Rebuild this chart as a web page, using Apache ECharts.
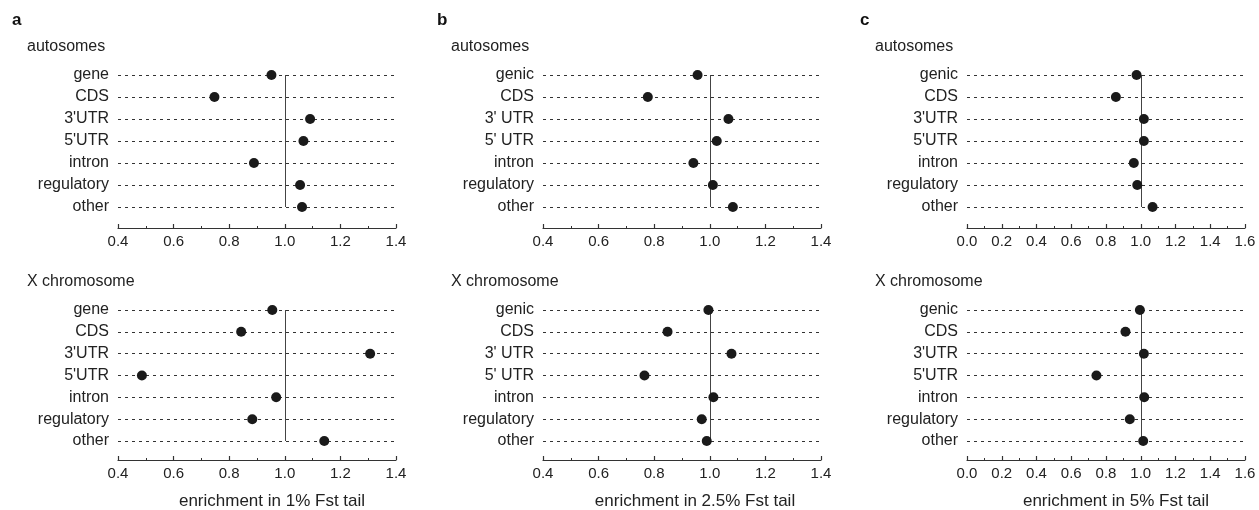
<!DOCTYPE html>
<html>
<head>
<meta charset="utf-8">
<script src="https://cdn.jsdelivr.net/npm/echarts@6/dist/echarts.min.js"></script>
<style>
html,body{margin:0;padding:0;background:#fff;}
#chart{width:1259px;height:510px;}
</style>
</head>
<body>
<div id="chart"></div>
<script>
// ---- data ----
const categoriesA = ['gene', 'CDS', "3'UTR", "5'UTR", 'intron', 'regulatory', 'other'];
const categoriesB = ['genic', 'CDS', "3' UTR", "5' UTR", 'intron', 'regulatory', 'other'];
const categoriesC = ['genic', 'CDS', "3'UTR", "5'UTR", 'intron', 'regulatory', 'other'];

const autosomesA = [0.952, 0.747, 1.091, 1.067, 0.889, 1.055, 1.062];
const xChromA    = [0.955, 0.843, 1.307, 0.486, 0.969, 0.883, 1.142];
const autosomesB = [0.956, 0.777, 1.067, 1.025, 0.941, 1.011, 1.083];
const xChromB    = [0.995, 0.848, 1.078, 0.765, 1.013, 0.971, 0.989];
const autosomesC = [0.976, 0.857, 1.018, 1.018, 0.960, 0.980, 1.068];
const xChromC    = [0.995, 0.912, 1.018, 0.745, 1.020, 0.937, 1.014];

const panelLetters = ['a', 'b', 'c'];
const rowTitles = ['autosomes', 'X chromosome'];
const axisNames = ['enrichment in 1% Fst tail', 'enrichment in 2.5% Fst tail', 'enrichment in 5% Fst tail'];
const axisRanges = [[0.4, 1.4], [0.4, 1.4], [0.0, 1.6]];
const refValue = 1.0;

// ---- layout ----
const FONT = '"Liberation Sans", Arial, Helvetica, sans-serif';
const TXT = '#222';
const panelLeft = [118, 543, 967];
const panelWidth = 278;
const rowTop = [75, 310];
const rowHeight = [132, 131];
const axisOffset = [21, 19];

const panels = [
  {cats: categoriesA, vals: [autosomesA, xChromA]},
  {cats: categoriesB, vals: [autosomesB, xChromB]},
  {cats: categoriesC, vals: [autosomesC, xChromC]}
];

const grids = [], xAxes = [], yAxes = [], series = [], graphics = [];
let gi = 0;
panels.forEach((p, pi) => {
  [0, 1].forEach(ri => {
    grids.push({left: panelLeft[pi], top: rowTop[ri], width: panelWidth, height: rowHeight[ri], containLabel: false});
    xAxes.push({
      type: 'value', gridIndex: gi, min: axisRanges[pi][0], max: axisRanges[pi][1], interval: 0.2,
      offset: axisOffset[ri],
      axisLine: {show: true, lineStyle: {color: '#333', width: 1.2}},
      axisTick: {show: true, inside: true, length: 4, lineStyle: {color: '#333', width: 1.2}},
      minorTick: {show: true, splitNumber: 2, length: 2, lineStyle: {color: '#333', width: 1}},
      splitLine: {show: false},
      axisLabel: {color: TXT, fontFamily: FONT, fontSize: 15, margin: 6,
        formatter: v => v.toFixed(1)}
    });
    yAxes.push({
      type: 'category', gridIndex: gi, data: p.cats, inverse: true, boundaryGap: false,
      axisLine: {show: false}, axisTick: {show: false},
      axisLabel: {color: TXT, fontFamily: FONT, fontSize: 16, margin: 9},
      splitLine: {show: true, lineStyle: {color: '#333', type: [3, 4], width: 1}}
    });
    series.push({
      type: 'scatter', xAxisIndex: gi, yAxisIndex: gi,
      data: p.vals[ri].map((v, i) => [v, p.cats[i]]),
      symbolSize: 10, itemStyle: {color: '#1a1a1a', opacity: 1},
      z: 5,
      markLine: {
        silent: true, symbol: 'none', label: {show: false},
        lineStyle: {color: '#444', type: 'solid', width: 1},
        data: [{xAxis: refValue}]
      }
    });
    gi++;
  });
});

const letterX = [12, 437, 860];
const titleX = [27, 451, 875];
const titleY = [47, 282];
const nameCenter = [272, 695, 1116];
panelLetters.forEach((l, pi) => {
  graphics.push({type: 'text', left: letterX[pi], top: 12,
    style: {text: l, font: 'bold 17px ' + FONT, fill: '#111'}});
  rowTitles.forEach((t, ri) => {
    graphics.push({type: 'text', x: titleX[pi], y: titleY[ri],
      style: {text: t, font: '16px ' + FONT, fill: TXT, textVerticalAlign: 'middle'}});
  });
  graphics.push({type: 'text', x: nameCenter[pi], y: 501,
    style: {text: axisNames[pi], font: '17px ' + FONT, fill: TXT, textAlign: 'center', textVerticalAlign: 'middle'}});
});

const chart = echarts.init(document.getElementById('chart'), null, {renderer: 'canvas'});
chart.setOption({
  animation: false,
  backgroundColor: '#fff',
  grid: grids, xAxis: xAxes, yAxis: yAxes, series: series, graphic: graphics
});
</script>
</body>
</html>
